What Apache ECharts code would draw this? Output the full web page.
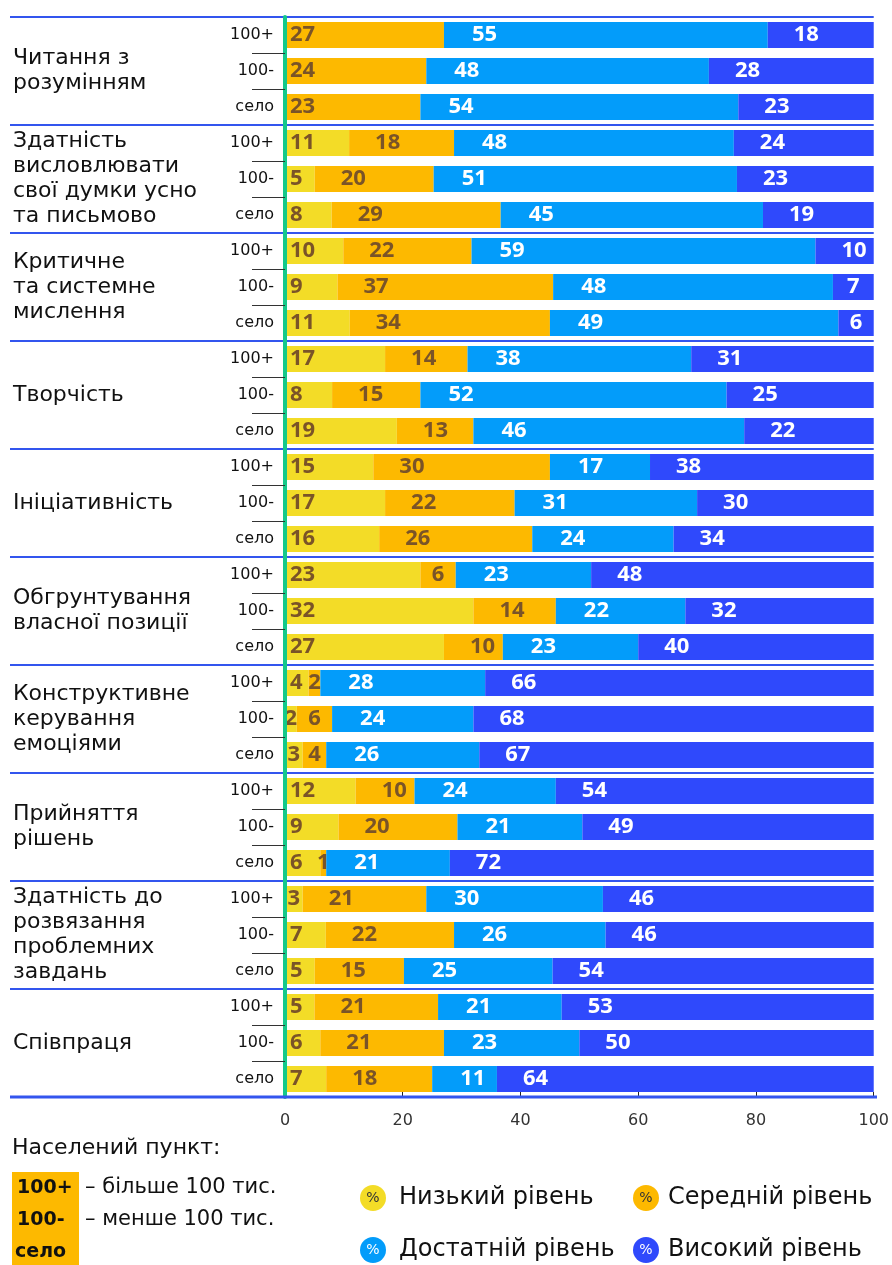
<!DOCTYPE html>
<html>
<head>
<meta charset="utf-8">
<script src="https://cdn.jsdelivr.net/npm/echarts@6/dist/echarts.min.js"></script>
<style>
  html, body { margin: 0; padding: 0; background: #fff; }
  #chart { width: 892px; height: 1265px; }
</style>
</head>
<body>
<div id="chart"></div>
<script>
// skills (groups) and settlement types
const groups = [
  'Читання з\nрозумінням',
  'Здатність\nвисловлювати\nсвої думки усно\nта письмово',
  'Критичне\nта системне\nмислення',
  'Творчість',
  'Ініціативність',
  'Обгрунтування\nвласної позиції',
  'Конструктивне\nкерування\nемоціями',
  'Прийняття\nрішень',
  'Здатність до\nрозвязання\nпроблемних\nзавдань',
  'Співпраця'
]
const places = ['100+', '100-', 'село']

// values per row, 30 rows (group x place), in %
const lowLevel = [
  0, 0, 0,
  11, 5, 8,
  10, 9, 11,
  17, 8, 19,
  15, 17, 16,
  23, 32, 27,
  4, 2, 3,
  12, 9, 6,
  3, 7, 5,
  5, 6, 7
]
const midLevel = [
  27, 24, 23,
  18, 20, 29,
  22, 37, 34,
  14, 15, 13,
  30, 22, 26,
  6, 14, 10,
  2, 6, 4,
  10, 20, 1,
  21, 22, 15,
  21, 21, 18
]
const goodLevel = [
  55, 48, 54,
  48, 51, 45,
  59, 48, 49,
  38, 52, 46,
  17, 31, 24,
  23, 22, 23,
  28, 24, 26,
  24, 21, 21,
  30, 26, 25,
  21, 23, 11
]
const highLevel = [
  18, 28, 23,
  24, 23, 19,
  10, 7, 6,
  31, 25, 22,
  38, 30, 34,
  48, 32, 40,
  66, 68, 67,
  54, 49, 72,
  46, 46, 54,
  53, 50, 64
]
const xTicks = [0, 20, 40, 60, 80, 100]

const seriesNames = ['Низький рівень', 'Середній рівень', 'Достатній рівень', 'Високий рівень']
const colors = ['#f3dc27', '#fdb900', '#039cfa', '#2f49fc']
const labelColors = ['#7a5428', '#7a5428', '#ffffff', '#ffffff']
const labelDist = [5, 26, 28, 26]

const rows = []
groups.forEach((g, gi) => places.forEach(p => rows.push(gi + '|' + p)))

const all = [lowLevel, midLevel, goodLevel, highLevel]
// rounded shares don't always add to 100, each bar is stretched to full width
const rowSum = rows.map((r, i) => all.reduce((s, a) => s + a[i], 0))
const pxPerUnit = 592 / 100

function buildData(si) {
  return all[si].map((v, i) => {
    const val = v * 100 / rowSum[i]
    if (!v) return { value: val, raw: v, label: { show: false } }
    let first = true
    for (let k = 0; k < si; k++) if (all[k][i]) first = false
    const d = first ? 5 : labelDist[si]
    const tw = String(v).length * 13.5
    const w = val * pxPerUnit
    if (w >= d + tw + 4) {
      return { value: val, raw: v, label: { position: 'insideLeft', distance: d } }
    }
    return { value: val, raw: v, label: { position: 'inside' } }
  })
}

const chart = echarts.init(document.getElementById('chart'), null, { renderer: 'canvas' })

const legendItems = []
const legendPos = [[373, 1198, 399], [646, 1198, 668], [373, 1250, 399], [646, 1250, 668]]
seriesNames.forEach((n, i) => {
  const [cx, cy, tx] = legendPos[i]
  legendItems.push({
    type: 'circle', shape: { cx: cx, cy: cy, r: 13 }, style: { fill: colors[i] }
  })
  legendItems.push({
    type: 'text', x: cx, y: cy,
    style: { text: '%', fill: i < 2 ? '#333' : '#fff', font: '14px "DejaVu Sans"', align: 'center', verticalAlign: 'middle' }
  })
  legendItems.push({
    type: 'text', x: tx, y: cy,
    style: { text: n, fill: '#111', font: '24px "DejaVu Sans"', verticalAlign: 'middle' }
  })
})

chart.setOption({
  animation: false,
  grid: { left: 285, right: 15, top: 17, bottom: 168 },
  xAxis: {
    type: 'value',
    min: 0,
    max: 100,
    interval: 20,
    axisLine: { show: false },
    axisTick: { show: true, inside: true, length: 5, lineStyle: { color: '#222' } },
    splitLine: { show: false },
    axisLabel: {
      margin: 16,
      fontSize: 16,
      color: '#333',
      fontFamily: '"DejaVu Sans"',
      formatter: v => xTicks.includes(v) ? String(v) : ''
    }
  },
  yAxis: [
    {
      type: 'category',
      inverse: true,
      data: rows,
      z: 12,
      axisLine: { show: true, lineStyle: { color: '#14c98a', width: 4 } },
      axisTick: {
        show: true,
        length: 33,
        interval: i => i % 3 !== 0,
        lineStyle: { color: '#333', width: 1 }
      },
      axisLabel: {
        margin: 11,
        fontSize: 16,
        color: '#111',
        fontFamily: '"DejaVu Sans"',
        formatter: v => v.split('|')[1]
      }
    },
    {
      type: 'category',
      inverse: true,
      data: groups,
      position: 'left',
      z: 11,
      axisLine: { show: false },
      axisTick: { show: true, length: 275, lineStyle: { color: '#3355ee', width: 2 } },
      splitLine: { show: true, lineStyle: { color: '#3355ee', width: 2 } },
      axisLabel: {
        align: 'left',
        margin: 272,
        fontSize: 22,
        lineHeight: 25,
        color: '#111',
        fontFamily: '"DejaVu Sans"'
      }
    }
  ],
  series: seriesNames.map((n, si) => ({
    name: n,
    type: 'bar',
    stack: 'total',
    yAxisIndex: 0,
    barWidth: 26,
    itemStyle: { color: colors[si] },
    label: {
      show: true,
      color: labelColors[si],
      fontSize: 22,
      fontWeight: 'bold',
      fontFamily: '"Open Sans", "Noto Sans"',
      formatter: p => String(p.data.raw)
    },
    data: buildData(si)
  })),
  graphic: [
    { type: 'line', shape: { x1: 10, y1: 1097, x2: 877, y2: 1097 }, style: { stroke: '#3355ee', lineWidth: 3 }, z: 20 },
    {
      type: 'text', x: 12, y: 1148,
      style: { text: 'Населений пункт:', fill: '#111', font: '22px "DejaVu Sans"', verticalAlign: 'middle' }
    },
    { type: 'rect', shape: { x: 12, y: 1172, width: 67, height: 93 }, style: { fill: '#fdb900' } },
    { type: 'text', x: 17, y: 1188, style: { text: '100+', fill: '#111', font: 'bold 19px "DejaVu Sans"', verticalAlign: 'middle' } },
    { type: 'text', x: 17, y: 1220, style: { text: '100-', fill: '#111', font: 'bold 19px "DejaVu Sans"', verticalAlign: 'middle' } },
    { type: 'text', x: 15, y: 1252, style: { text: 'село', fill: '#111', font: 'bold 19px "DejaVu Sans"', verticalAlign: 'middle' } },
    { type: 'text', x: 85, y: 1188, style: { text: '– більше 100 тис.', fill: '#111', font: '21px "DejaVu Sans"', verticalAlign: 'middle' } },
    { type: 'text', x: 85, y: 1220, style: { text: '– менше 100 тис.', fill: '#111', font: '21px "DejaVu Sans"', verticalAlign: 'middle' } }
  ].concat(legendItems)
})
</script>
</body>
</html>
